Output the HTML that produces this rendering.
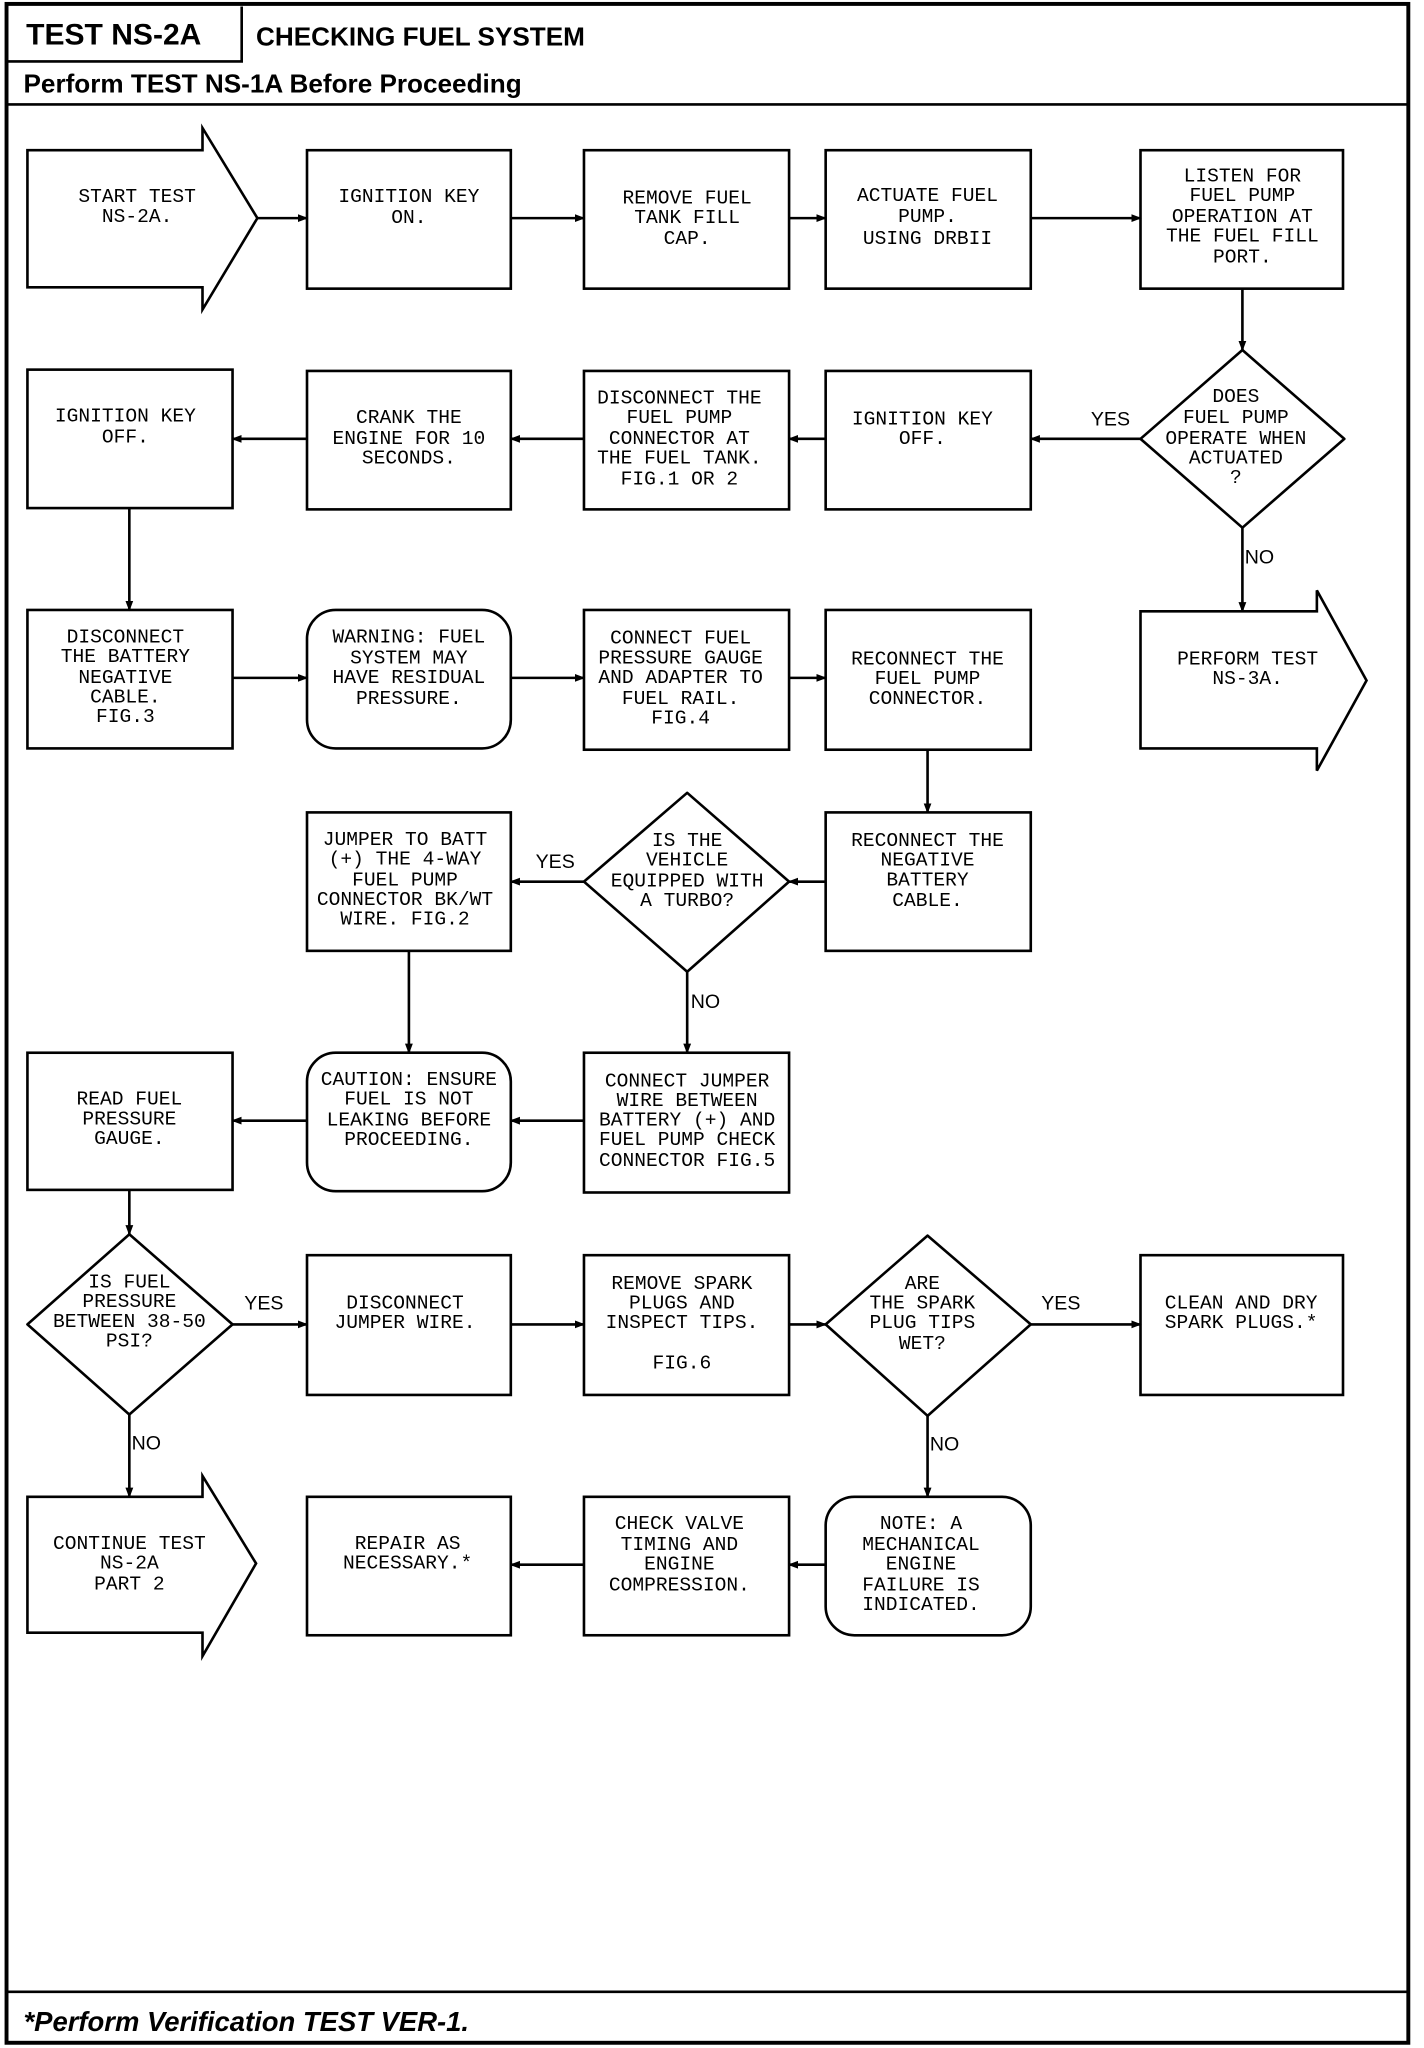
<!DOCTYPE html>
<html><head><meta charset="utf-8"><style>
html,body{margin:0;padding:0;background:#fff}
svg{display:block}
.n{fill:none;stroke:#000;stroke-width:2}
.t{font-family:"Liberation Mono",monospace;font-size:15px;text-anchor:middle;dominant-baseline:central;fill:#000}
.l{font-family:"Liberation Sans",sans-serif;font-size:15px;text-anchor:middle;dominant-baseline:central;fill:#000}
</style></head><body>
<svg width="1424" height="2048" viewBox="0 0 1090 1568" preserveAspectRatio="none" xmlns="http://www.w3.org/2000/svg">
<defs><marker id="a" markerWidth="8" markerHeight="8" refX="7" refY="4" orient="auto" markerUnits="userSpaceOnUse"><path d="M0,1 L8,4 L0,7 z" fill="#000"/></marker></defs>
<rect x="5" y="3" width="1073" height="1561" fill="none" stroke="#000" stroke-width="3"/>
<path d="M5,47 H185 V5" class="n"/>
<line x1="5" y1="80" x2="1078" y2="80" stroke="#000" stroke-width="2"/>
<line x1="5" y1="1525" x2="1078" y2="1525" stroke="#000" stroke-width="2"/>
<text x="20" y="34" font-family="Liberation Sans,sans-serif" font-weight="bold" font-size="23">TEST NS-2A</text>
<text x="196" y="35" font-family="Liberation Sans,sans-serif" font-weight="bold" font-size="20">CHECKING FUEL SYSTEM</text>
<text x="18" y="71" font-family="Liberation Sans,sans-serif" font-weight="bold" font-size="20">Perform TEST NS-1A Before Proceeding</text>
<text x="18" y="1555" font-family="Liberation Sans,sans-serif" font-weight="bold" font-style="italic" font-size="21">*Perform Verification TEST VER-1.</text>

<g class="n">
<path d="M21,115 H155 V98 L197,167 L155,237 V220 H21 Z"/>
<rect x="235" y="115" width="156" height="106"/>
<rect x="447" y="115" width="157" height="106"/>
<rect x="632" y="115" width="157" height="106"/>
<rect x="873" y="115" width="155" height="106"/>
<path d="M951,268 L1029,336 L951,404 L873,336 Z" stroke-linejoin="round"/>
<rect x="21" y="283" width="157" height="106"/>
<rect x="235" y="284" width="156" height="106"/>
<rect x="447" y="284" width="157" height="106"/>
<rect x="632" y="284" width="157" height="106"/>
<rect x="21" y="467" width="157" height="106"/>
<rect x="235" y="467" width="156" height="106" rx="22"/>
<rect x="447" y="467" width="157" height="107"/>
<rect x="632" y="467" width="157" height="107"/>
<path d="M873,468 H1008 V452 L1046,521 L1008,590 V573 H873 Z"/>
<rect x="235" y="622" width="156" height="106"/>
<path d="M526,607 L604,675 L526,744 L447,675 Z" stroke-linejoin="round"/>
<rect x="632" y="622" width="157" height="106"/>
<rect x="21" y="806" width="157" height="105"/>
<rect x="235" y="806" width="156" height="106" rx="22"/>
<rect x="447" y="806" width="157" height="107"/>
<path d="M99,945 L178,1014 L99,1083 L21,1014 Z" stroke-linejoin="round"/>
<rect x="235" y="961" width="156" height="107"/>
<rect x="447" y="961" width="157" height="107"/>
<path d="M710,946 L789,1014 L710,1084 L632,1014 Z" stroke-linejoin="round"/>
<rect x="873" y="961" width="155" height="107"/>
<path d="M21,1146 H155 V1130 L196,1197 L155,1268 V1250 H21 Z"/>
<rect x="235" y="1146" width="156" height="106"/>
<rect x="447" y="1146" width="157" height="106"/>
<rect x="632" y="1146" width="157" height="106" rx="22"/>
</g>

<g stroke="#000" stroke-width="2" marker-end="url(#a)">
<line x1="197" y1="167" x2="235" y2="167"/>
<line x1="391" y1="167" x2="447" y2="167"/>
<line x1="604" y1="167" x2="632" y2="167"/>
<line x1="789" y1="167" x2="873" y2="167"/>
<line x1="951" y1="221" x2="951" y2="268"/>
<line x1="873" y1="336" x2="789" y2="336"/>
<line x1="632" y1="336" x2="604" y2="336"/>
<line x1="447" y1="336" x2="391" y2="336"/>
<line x1="235" y1="336" x2="178" y2="336"/>
<line x1="99" y1="389" x2="99" y2="467"/>
<line x1="178" y1="519" x2="235" y2="519"/>
<line x1="391" y1="519" x2="447" y2="519"/>
<line x1="604" y1="519" x2="632" y2="519"/>
<line x1="951" y1="404" x2="951" y2="468"/>
<line x1="710" y1="574" x2="710" y2="622"/>
<line x1="632" y1="675" x2="604" y2="675"/>
<line x1="447" y1="675" x2="391" y2="675"/>
<line x1="526" y1="744" x2="526" y2="806"/>
<line x1="313" y1="728" x2="313" y2="806"/>
<line x1="447" y1="858" x2="391" y2="858"/>
<line x1="235" y1="858" x2="178" y2="858"/>
<line x1="99" y1="911" x2="99" y2="945"/>
<line x1="178" y1="1014" x2="235" y2="1014"/>
<line x1="391" y1="1014" x2="447" y2="1014"/>
<line x1="604" y1="1014" x2="632" y2="1014"/>
<line x1="789" y1="1014" x2="873" y2="1014"/>
<line x1="99" y1="1083" x2="99" y2="1146"/>
<line x1="710" y1="1084" x2="710" y2="1146"/>
<line x1="632" y1="1198" x2="604" y2="1198"/>
<line x1="447" y1="1198" x2="391" y2="1198"/>
</g>

<g class="l">
<text x="850" y="321">YES</text>
<text x="964" y="427">NO</text>
<text x="425" y="660">YES</text>
<text x="540" y="767">NO</text>
<text x="202" y="998">YES</text>
<text x="812" y="998">YES</text>
<text x="112" y="1105">NO</text>
<text x="723" y="1106">NO</text>
</g>

<g class="t">
<text x="105" y="151">START TEST</text><text x="105" y="166">NS-2A.</text>
<text x="313" y="151">IGNITION KEY</text><text x="313" y="167">ON.</text>
<text x="526" y="152">REMOVE FUEL</text><text x="526" y="167">TANK FILL</text><text x="526" y="183">CAP.</text>
<text x="710" y="150">ACTUATE FUEL</text><text x="710" y="166">PUMP.</text><text x="710" y="183">USING DRBII</text>
<text x="951" y="135">LISTEN FOR</text><text x="951" y="150">FUEL PUMP</text><text x="951" y="166">OPERATION AT</text><text x="951" y="181">THE FUEL FILL</text><text x="951" y="197">PORT.</text>
<text x="946" y="304">DOES</text><text x="946" y="320">FUEL PUMP</text><text x="946" y="336">OPERATE WHEN</text><text x="946" y="351">ACTUATED</text><text x="946" y="366">?</text>
<text x="706" y="321">IGNITION KEY</text><text x="706" y="336">OFF.</text>
<text x="520" y="305">DISCONNECT THE</text><text x="520" y="320">FUEL PUMP</text><text x="520" y="336">CONNECTOR AT</text><text x="520" y="351">THE FUEL TANK.</text><text x="520" y="367">FIG.1 OR 2</text>
<text x="313" y="320">CRANK THE</text><text x="313" y="336">ENGINE FOR 10</text><text x="313" y="351">SECONDS.</text>
<text x="96" y="319">IGNITION KEY</text><text x="96" y="335">OFF.</text>
<text x="96" y="488">DISCONNECT</text><text x="96" y="503">THE BATTERY</text><text x="96" y="519">NEGATIVE</text><text x="96" y="534">CABLE.</text><text x="96" y="549">FIG.3</text>
<text x="313" y="488">WARNING: FUEL</text><text x="313" y="504">SYSTEM MAY</text><text x="313" y="519">HAVE RESIDUAL</text><text x="313" y="535">PRESSURE.</text>
<text x="521" y="489">CONNECT FUEL</text><text x="521" y="504">PRESSURE GAUGE</text><text x="521" y="519">AND ADAPTER TO</text><text x="521" y="535">FUEL RAIL.</text><text x="521" y="550">FIG.4</text>
<text x="710" y="505">RECONNECT THE</text><text x="710" y="520">FUEL PUMP</text><text x="710" y="535">CONNECTOR.</text>
<text x="955" y="505">PERFORM TEST</text><text x="955" y="520">NS-3A.</text>
<text x="310" y="643">JUMPER TO BATT</text><text x="310" y="658">(+) THE 4-WAY</text><text x="310" y="674">FUEL PUMP</text><text x="310" y="689">CONNECTOR BK/WT</text><text x="310" y="704">WIRE. FIG.2</text>
<text x="526" y="644">IS THE</text><text x="526" y="659">VEHICLE</text><text x="526" y="675">EQUIPPED WITH</text><text x="526" y="690">A TURBO?</text>
<text x="710" y="644">RECONNECT THE</text><text x="710" y="659">NEGATIVE</text><text x="710" y="674">BATTERY</text><text x="710" y="690">CABLE.</text>
<text x="99" y="842">READ FUEL</text><text x="99" y="857">PRESSURE</text><text x="99" y="872">GAUGE.</text>
<text x="313" y="827">CAUTION: ENSURE</text><text x="313" y="842">FUEL IS NOT</text><text x="313" y="858">LEAKING BEFORE</text><text x="313" y="873">PROCEEDING.</text>
<text x="526" y="828">CONNECT JUMPER</text><text x="526" y="843">WIRE BETWEEN</text><text x="526" y="858">BATTERY (+) AND</text><text x="526" y="873">FUEL PUMP CHECK</text><text x="526" y="889">CONNECTOR FIG.5</text>
<text x="99" y="982">IS FUEL</text><text x="99" y="997">PRESSURE</text><text x="99" y="1012">BETWEEN 38-50</text><text x="99" y="1027">PSI?</text>
<text x="310" y="998">DISCONNECT</text><text x="310" y="1013">JUMPER WIRE.</text>
<text x="522" y="983">REMOVE SPARK</text><text x="522" y="998">PLUGS AND</text><text x="522" y="1013">INSPECT TIPS.</text><text x="522" y="1044">FIG.6</text>
<text x="706" y="983">ARE</text><text x="706" y="998">THE SPARK</text><text x="706" y="1013">PLUG TIPS</text><text x="706" y="1029">WET?</text>
<text x="950" y="998">CLEAN AND DRY</text><text x="950" y="1013">SPARK PLUGS.*</text>
<text x="99" y="1182">CONTINUE TEST</text><text x="99" y="1197">NS-2A</text><text x="99" y="1213">PART 2</text>
<text x="312" y="1182">REPAIR AS</text><text x="312" y="1197">NECESSARY.*</text>
<text x="520" y="1167">CHECK VALVE</text><text x="520" y="1183">TIMING AND</text><text x="520" y="1198">ENGINE</text><text x="520" y="1214">COMPRESSION.</text>
<text x="705" y="1167">NOTE: A</text><text x="705" y="1183">MECHANICAL</text><text x="705" y="1198">ENGINE</text><text x="705" y="1214">FAILURE IS</text><text x="705" y="1229">INDICATED.</text>
</g>
</svg>
</body></html>
